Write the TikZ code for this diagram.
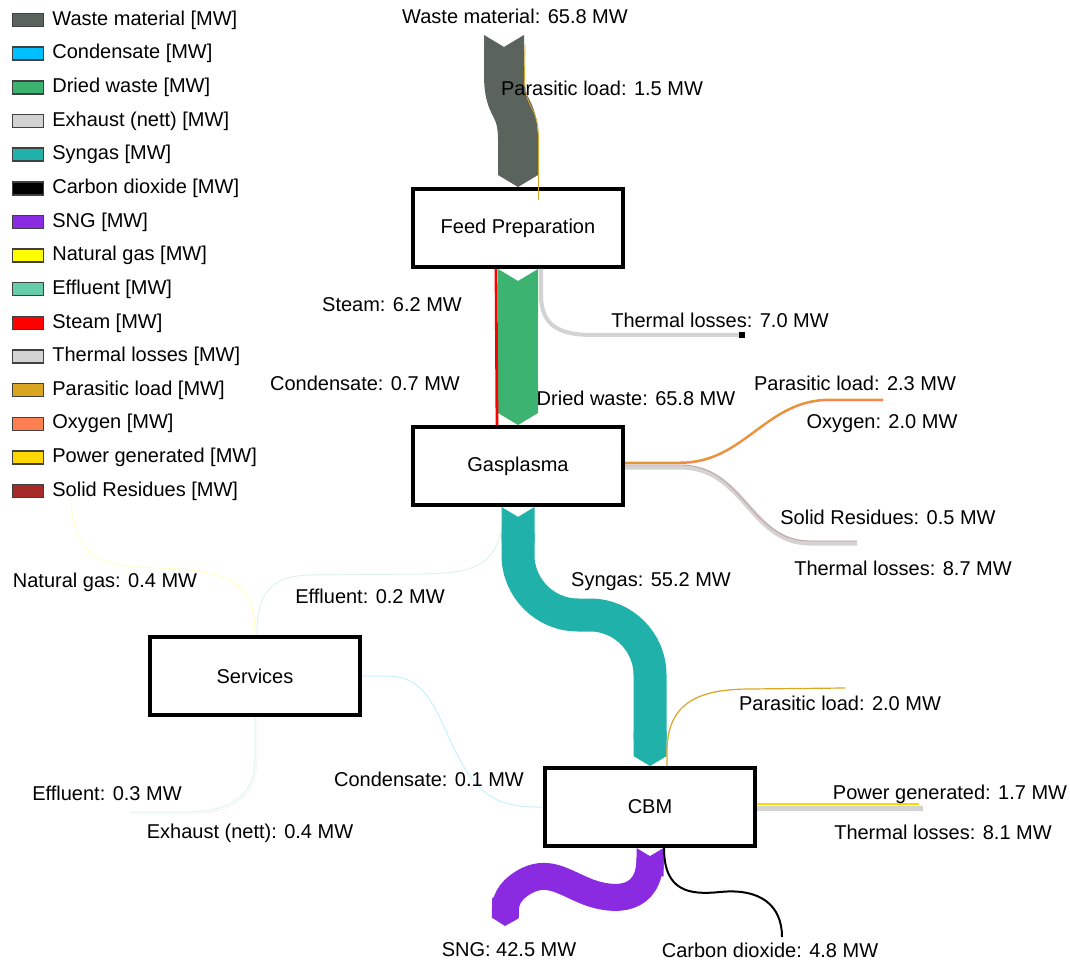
\documentclass[tikz,border=0pt]{standalone}
\usepackage{fontspec}
\setmainfont{Liberation Sans}
\usetikzlibrary{arrows.meta}

\definecolor{waste}{RGB}{90,99,92}
\definecolor{condensate}{RGB}{0,191,255}
\definecolor{dried}{RGB}{60,179,113}
\definecolor{exhaust}{RGB}{211,211,211}
\definecolor{syngas}{RGB}{32,178,170}
\definecolor{co2}{RGB}{0,0,0}
\definecolor{sng}{RGB}{138,43,226}
\definecolor{natgas}{RGB}{255,255,0}
\definecolor{effluent}{RGB}{102,205,170}
\definecolor{steam}{RGB}{255,0,0}
\definecolor{thermal}{RGB}{211,211,211}
\definecolor{parasitic}{RGB}{218,165,32}
\definecolor{oxygen}{RGB}{255,127,80}
\definecolor{power}{RGB}{255,215,0}
\definecolor{residue}{RGB}{165,42,42}

\newcommand{\lblfont}{\fontsize{10}{12}\selectfont}

\tikzset{
	unit/.style={draw=black, line width=2pt, fill=white, minimum width=105pt, minimum height=39pt, font=\lblfont},
	lbl/.style={font=\lblfont, inner sep=1pt},
	swatch/.style={draw=black!75, line width=0.8pt, minimum width=15.5pt, minimum height=6.5pt, inner sep=0pt},
	band/.style={line width=#1, arrows={{Triangle Cap[reversed,length=+0pt .3]}-{Triangle Cap[length=+0pt .3]}}},
	faint/.style={line width=0.5pt, opacity=0.22},
}

\begin{document}
\begin{tikzpicture}[x=0.5pt, y=-0.5pt]
		\useasboundingbox (0,0) rectangle (1070,962);

		\foreach \col/\txt [count=\i] in {waste/Waste material, condensate/Condensate, dried/Dried waste, exhaust/Exhaust (nett), syngas/Syngas, co2/Carbon dioxide, sng/SNG, natgas/Natural gas, effluent/Effluent, steam/Steam, thermal/Thermal losses, parasitic/Parasitic load, oxygen/Oxygen, power/Power generated, residue/Solid Residues} {
			\node[swatch, fill=\col] (sw\i) at (28, {20+33.65*(\i-1)}) {};
			\node[lbl, anchor=west] (leg\i) at (50, {20+33.65*(\i-1)}) {\txt{} [MW]};
		}

		\node[unit] (feed) at (518,228) {Feed Preparation};
		\node[unit] (gas) at (518,466) {Gasplasma};
		\node[unit] (serv) at (255,676) {Services};
		\node[unit] (cbm) at (650,807) {CBM};

		\coordinate (wasteIn) at (504,35);
		\coordinate (plIn) at (525,45);
		\coordinate (lossA) at (742,335);
		\coordinate (oxEnd) at (883,400);
		\coordinate (tlGas) at (857,543);
		\coordinate (plCbm) at (845,688);
		\coordinate (tlCbm) at (923,808);
		\coordinate (pwEnd) at (919,804);
		\coordinate (sngEnd) at (505,926);
		\coordinate (co2End) at (782,937);
		\coordinate (ngIn) at (71,493);
		\coordinate (effEnd) at (130,812);

		% feed preparation
		\draw[waste, band=20pt] (wasteIn) -- (504,75) .. controls (504,112) and (518,103) .. (518,140) -- (feed.north);
		\draw[parasitic, line width=0.4pt] (plIn) -- (524.5,75) .. controls (524.5,112) and (538.5,103) .. (538.5,140) -- ([shift={(20.5,13)}]feed.north);
		\draw[dried, band=20pt] (feed.south) -- (gas.north);
		\draw[steam, line width=1.4pt] ([xshift=-11pt]feed.south) -- ([xshift=-10.5pt]gas.north);
		\draw[thermal, line width=2pt] ([xshift=11.5pt]feed.south) -- (541,295) .. controls (541,326) and (560,335) .. (592,335) -- (lossA);
		\fill[black] ([shift={(-3,-3)}]lossA) rectangle ([shift={(3,3)}]lossA);

		% gasplasma
		\draw[oxygen, line width=1pt] ([yshift=1.5pt]gas.east) -- (680,463) .. controls (745,463) and (765,400) .. (830,400) -- (oxEnd);
		\draw[parasitic, line width=0.5pt] ([yshift=2pt]gas.east) -- (680,462) .. controls (745,462) and (765,399) .. (830,399) -- ([yshift=0.5pt]oxEnd);
		\draw[thermal, line width=2.5pt] ([yshift=-0.5pt]gas.east) -- (680,467) .. controls (745,467) and (750,543) .. (810,543) -- (tlGas);
		\draw[residue, opacity=0.3, line width=0.4pt] ([yshift=0.5pt]gas.east) -- (680,465) .. controls (744,465) and (749,541) .. (810,541) -- ([yshift=1pt]tlGas);
		\draw[syngas, band=16.5pt, rounded corners=30pt] (gas.south) -- (518,615) -- (650,615) -- (cbm.north);

		% services
		\draw[natgas, faint] (ngIn) .. controls (71,565) and (110,567) .. (160,568) .. controls (240,570) and (255,590) .. (serv.north);
		\draw[effluent, faint] ([xshift=-7.5pt]gas.south) .. controls (503,570) and (470,573) .. (420,574) -- (310,575) .. controls (265,576) and (257,600) .. ([xshift=1pt]serv.north);
		\draw[condensate, faint] (serv.east) -- (385,676) .. controls (420,676) and (430,695) .. (450,740) .. controls (475,795) and (495,808) .. (cbm.west);
		\draw[effluent, faint] (serv.south) -- (255,760) .. controls (255,800) and (225,812) .. (185,812) -- (effEnd);
		\draw[exhaust, faint] ([xshift=1pt]serv.south) -- (257,760) .. controls (257,802) and (226,814) .. (185,814) -- ([yshift=-1pt]effEnd);

		% cbm
		\draw[parasitic, line width=0.6pt] ([xshift=8.5pt]cbm.north) -- (667,752) .. controls (667,705) and (695,689) .. (750,689) -- (plCbm);
		\draw[thermal, line width=2.5pt] ([yshift=-0.5pt]cbm.east) -- (tlCbm);
		\draw[power, line width=1pt] ([yshift=1.5pt]cbm.east) -- (pwEnd);
		\draw[sng, band=13.5pt] (cbm.south) -- (650,858) .. controls (650,902) and (615,902) .. (588,892) .. controls (565,883) and (550,870) .. (528,880) .. controls (512,888) and (506,898) .. (505.5,908) -- (sngEnd);
		\draw[co2, line width=1pt] ([xshift=7pt]cbm.south) .. controls (664,892) and (690,895) .. (720,892) .. controls (760,888) and (782,905) .. (co2End);

		\node[lbl] (lWaste) at (515,16) {Waste material: 65.8 MW};
		\node[lbl] (lPl1) at (602,88) {Parasitic load: 1.5 MW};
		\node[lbl] (lSteam) at (392,305) {Steam: 6.2 MW};
		\node[lbl] (lTl1) at (720,320) {Thermal losses: 7.0 MW};
		\node[lbl] (lCond1) at (365,383) {Condensate: 0.7 MW};
		\node[lbl] (lDried) at (636,398) {Dried waste: 65.8 MW};
		\node[lbl] (lPl2) at (855,383) {Parasitic load: 2.3 MW};
		\node[lbl] (lOxy) at (882,424) {Oxygen: 2.0 MW};
		\node[lbl] (lRes) at (888,517) {Solid Residues: 0.5 MW};
		\node[lbl] (lTl2) at (903,568) {Thermal losses: 8.7 MW};
		\node[lbl] (lSyn) at (651,582) {Syngas: 55.2 MW};
		\node[lbl] (lNat) at (105,582) {Natural gas: 0.4 MW};
		\node[lbl] (lEff1) at (370,596) {Effluent: 0.2 MW};
		\node[lbl] (lPl3) at (840,703) {Parasitic load: 2.0 MW};
		\node[lbl] (lCond2) at (429,779) {Condensate: 0.1 MW};
		\node[lbl] (lEff2) at (107,793) {Effluent: 0.3 MW};
		\node[lbl] (lPow) at (950,794) {Power generated: 1.7 MW};
		\node[lbl] (lTl3) at (943,832) {Thermal losses: 8.1 MW};
		\node[lbl] (lExh) at (250,833) {Exhaust (nett): 0.4 MW};
		\node[lbl] (lSng) at (509,950) {SNG: 42.5 MW};
		\node[lbl] (lCo2) at (770,950) {Carbon dioxide: 4.8 MW};
	\end{tikzpicture}
\end{document}
